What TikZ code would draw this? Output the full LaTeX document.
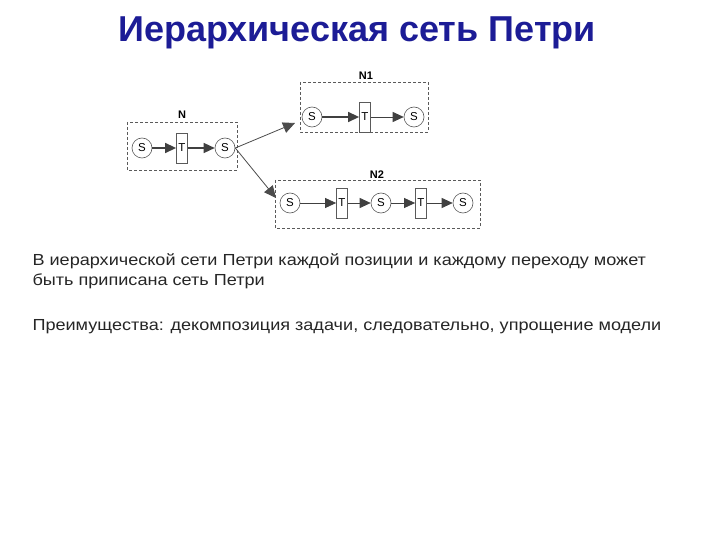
\documentclass[tikz,border=0pt]{standalone}
\usepackage{fontspec}
\setmainfont{Liberation Sans}
\newfontfamily\bodyfont[FakeStretch=1.13]{Liberation Sans}
\usetikzlibrary{arrows.meta}
\definecolor{titleblue}{RGB}{28,28,150}
\definecolor{netgray}{RGB}{90,90,90}
\tikzset{
  place/.style={circle,draw=netgray,line width=0.6pt,fill=white,minimum size=20pt,inner sep=0pt,font=\fontsize{11.5}{11.5}\selectfont},
  trans/.style={rectangle,draw=netgray,line width=0.8pt,fill=white,minimum width=11pt,minimum height=30pt,inner sep=0pt,font=\fontsize{11.5}{11.5}\selectfont},
  netbox/.style={draw=netgray,line width=0.8pt,dash pattern=on 3pt off 2pt},
  netlabel/.style={font=\bfseries\fontsize{11}{11}\selectfont},
  arc/.style={draw=black!75,line width=1.4pt,-{Triangle[length=11pt,width=10pt]}},
  thinarc/.style={draw=black!75,line width=0.8pt,-{Triangle[length=11pt,width=10pt]}},
  refarc/.style={draw=black!70,line width=0.8pt,-{Triangle[length=12pt,width=11pt]}},
  bodytext/.style={anchor=base west,font=\bodyfont\fontsize{16}{16}\selectfont,text=black!85}
}
\begin{document}
\begin{tikzpicture}[x=1pt,y=-1pt]
\useasboundingbox[fill=white] (0,0) rectangle (720,540);
\node[anchor=base,font=\bfseries\fontsize{36}{36}\selectfont,text=titleblue] (title) at (357,42) {Иерархическая сеть Петри};
% Net N
\draw[netbox] (127,122) rectangle (237,170);
\node[netlabel] (lN) at (182,115) {N};
\node[place] (s1) at (142,148) {S};
\node[trans] (t1) at (182,148) {T};
\node[place] (s2) at (225,148) {S};
\draw[arc] (s1) -- (t1);
\draw[arc] (t1) -- (s2);
% Net N1
\draw[netbox] (300,82) rectangle (428,132);
\node[netlabel] (lN1) at (366,76) {N1};
\node[place] (a1) at (312,117) {S};
\node[trans] (a2) at (365,117) {T};
\node[place] (a3) at (414,117) {S};
\draw[arc] (a1) -- (a2);
\draw[thinarc] (a2) -- (a3);
% Net N2
\draw[netbox] (275,180) rectangle (480,228);
\node[netlabel] (lN2) at (377,175) {N2};
\node[place] (b1) at (290,203) {S};
\node[trans] (b2) at (342,203) {T};
\node[place] (b3) at (381,203) {S};
\node[trans] (b4) at (421,203) {T};
\node[place] (b5) at (463,203) {S};
\draw[thinarc] (b1) -- (b2);
\draw[thinarc] (b2) -- (b3);
\draw[thinarc] (b3) -- (b4);
\draw[thinarc] (b4) -- (b5);
% refinement arrows
\coordinate (e1) at (295,123);
\coordinate (e2) at (276,198);
\draw[refarc] (s2.east) -- (e1);
\draw[refarc] (s2.east) -- (e2);
% Text
\node[bodytext] (p1) at (29,265) {В иерархической сети Петри каждой позиции и каждому переходу может};
\node[bodytext] (p2) at (29,285) {быть приписана сеть Петри};
\node[bodytext] (p3) at (29,330) {Преимущества: декомпозиция задачи, следовательно, упрощение модели};
\end{tikzpicture}
\end{document}
